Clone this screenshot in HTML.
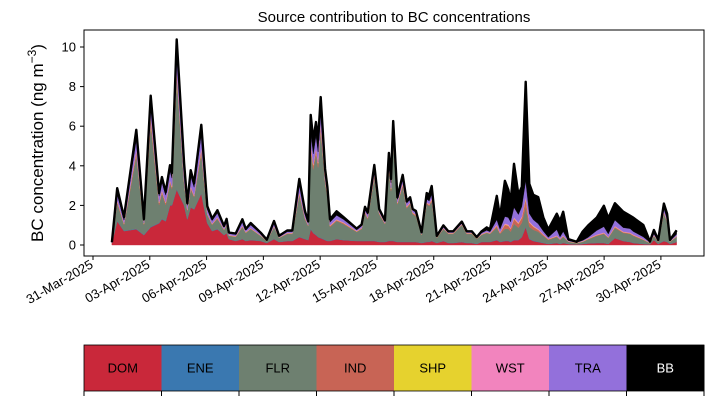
<!DOCTYPE html>
<html><head><meta charset="utf-8"><style>
html,body{margin:0;padding:0;background:#fff;width:714px;height:402px;overflow:hidden}
svg{display:block;font-family:"Liberation Sans",sans-serif}
</style></head><body>
<svg id="c" width="714" height="402" viewBox="0 0 714 402">
<text x="394" y="22" text-anchor="middle" font-size="15">Source contribution to BC concentrations</text>
<text transform="translate(43,143) rotate(-90)" text-anchor="middle" font-size="17">BC concentration (ng m<tspan dy="-7" font-size="12">−3</tspan><tspan dy="7">)</tspan></text>
<g id="areas"></g>
<g id="axes"></g>
<g id="legend"></g>
</svg>
<script>
const days=[1.00,1.28,1.64,2.29,2.69,3.05,3.49,3.64,3.84,4.07,4.17,4.42,4.81,4.98,5.16,5.34,5.72,6.04,6.29,6.57,6.92,7.06,7.18,7.54,7.89,8.07,8.33,8.86,9.18,9.56,9.83,10.26,10.53,10.90,11.20,11.37,11.50,11.64,11.78,11.89,12.03,12.26,12.38,12.52,12.87,13.22,13.93,14.19,14.37,14.51,14.86,15.12,15.42,15.63,15.74,15.86,16.08,16.36,16.57,16.75,16.89,17.06,17.36,17.63,17.76,17.89,18.16,18.51,18.77,19.03,19.48,19.74,20.01,20.27,20.53,20.80,20.97,21.33,21.50,21.76,21.94,22.06,22.24,22.47,22.65,22.86,23.05,23.26,23.52,23.79,24.05,24.50,24.67,24.84,25.11,25.55,25.87,26.16,26.61,26.99,27.22,27.57,28.01,28.37,28.54,29.07,29.42,29.63,29.86,30.16,30.33,30.48,30.83];
const DOM=[0.1,1.2,0.7,0.8,0.5,0.9,1.1,1.3,1.2,2.0,2.0,2.8,2.0,1.3,1.9,1.8,2.6,1.1,0.7,0.8,0.5,0.6,0.3,0.2,0.3,0.2,0.25,0.2,0.1,0.3,0.15,0.2,0.2,0.4,0.3,0.25,0.8,0.6,0.5,0.4,0.35,0.25,0.2,0.2,0.3,0.25,0.2,0.2,0.2,0.2,0.2,0.15,0.15,0.2,0.2,0.2,0.15,0.15,0.15,0.15,0.15,0.15,0.1,0.15,0.15,0.2,0.1,0.2,0.1,0.1,0.15,0.1,0.1,0.05,0.15,0.15,0.15,0.25,0.15,0.2,0.2,0.15,0.25,0.25,0.4,0.9,0.3,0.2,0.15,0.1,0.05,0.1,0.05,0.1,0.05,0.03,0.05,0.08,0.1,0.1,0.05,0.35,0.2,0.15,0.1,0.05,0.03,0.25,0.05,0.2,0.15,0.05,0.15];
const ENE=[0,0.02,0.02,0.02,0.02,0.02,0.02,0.02,0.02,0.02,0.02,0.03,0.02,0.02,0.02,0.02,0.02,0.02,0.02,0.02,0.01,0.01,0.01,0.01,0.01,0.01,0.01,0.01,0.01,0.01,0.01,0.01,0.01,0.02,0.01,0.01,0.02,0.02,0.02,0.02,0.02,0.02,0.02,0.01,0.01,0.01,0.01,0.01,0.01,0.01,0.02,0.01,0.01,0.02,0.02,0.02,0.01,0.02,0.01,0.01,0.01,0.01,0.01,0.02,0.02,0.02,0.01,0.01,0.01,0.01,0.01,0.01,0.01,0.01,0.01,0.01,0.01,0.02,0.01,0.02,0.02,0.02,0.02,0.02,0.02,0.03,0.02,0.02,0.02,0.01,0.01,0.01,0.01,0.01,0.01,0.01,0.01,0.01,0.01,0.01,0.01,0.01,0.01,0.01,0.01,0.01,0.01,0.01,0.01,0.01,0.01,0.01,0.01];
const FLR=[0,0.9,0.3,3.7,0.5,5.2,0.9,1.3,0.8,1.1,0.8,5.6,1.1,0.4,0.9,0.6,2.0,0.4,0.3,0.5,0.25,0.4,0.15,0.2,0.6,0.4,0.55,0.25,0.08,0.6,0.2,0.35,0.35,2.1,1.0,0.7,3.9,3.2,4.1,3.5,5.4,2.9,2.2,0.7,0.9,0.8,0.45,0.6,1.4,1.1,3.2,1.4,0.9,3.6,2.5,5.0,1.9,2.8,1.7,1.9,1.4,1.3,0.4,1.9,1.8,2.0,0.25,0.6,0.45,0.45,0.85,0.45,0.45,0.25,0.35,0.45,0.4,0.6,0.4,0.6,0.6,0.5,0.8,0.6,0.7,1.0,0.6,0.55,0.5,0.35,0.2,0.3,0.2,0.3,0.1,0.05,0.1,0.2,0.35,0.45,0.3,0.5,0.4,0.4,0.35,0.2,0.05,0.2,0.1,1.4,1.0,0.1,0.25];
const IND=[0,0.1,0.05,0.2,0.05,0.3,0.1,0.1,0.1,0.1,0.1,0.3,0.1,0.05,0.1,0.05,0.2,0.05,0.03,0.05,0.02,0.03,0.02,0.02,0.03,0.02,0.02,0.01,0.01,0.02,0.01,0.02,0.02,0.1,0.05,0.03,0.3,0.2,0.2,0.2,0.3,0.1,0.1,0.05,0.05,0.05,0.02,0.03,0.05,0.05,0.1,0.05,0.03,0.1,0.1,0.15,0.05,0.1,0.05,0.05,0.05,0.05,0.02,0.05,0.05,0.1,0.02,0.02,0.02,0.02,0.02,0.02,0.02,0.01,0.02,0.02,0.02,0.1,0.05,0.2,0.15,0.15,0.25,0.2,0.25,0.4,0.2,0.15,0.1,0.05,0.03,0.03,0.02,0.03,0.01,0.01,0.01,0.02,0.03,0.03,0.02,0.05,0.03,0.03,0.03,0.02,0.01,0.02,0.01,0.03,0.03,0.01,0.02];
const SHP=[0,0.01,0.01,0.02,0.01,0.02,0.01,0.01,0.01,0.01,0.01,0.03,0.01,0.01,0.01,0.01,0.02,0.01,0.01,0.01,0.01,0.01,0.01,0.01,0.01,0.01,0.01,0.01,0.01,0.01,0.01,0.01,0.01,0.02,0.01,0.01,0.02,0.02,0.02,0.02,0.02,0.02,0.01,0.01,0.01,0.01,0.01,0.01,0.01,0.01,0.02,0.01,0.01,0.02,0.02,0.02,0.01,0.02,0.01,0.01,0.01,0.01,0.01,0.01,0.01,0.01,0.01,0.01,0.01,0.01,0.01,0.01,0.01,0.01,0.01,0.01,0.01,0.01,0.01,0.02,0.02,0.01,0.02,0.02,0.02,0.03,0.02,0.02,0.01,0.01,0.01,0.01,0.01,0.01,0.01,0.01,0.01,0.01,0.01,0.01,0.01,0.01,0.01,0.01,0.01,0.01,0.01,0.01,0.01,0.01,0.01,0.01,0.01];
const WST=[0,0.04,0.03,0.08,0.03,0.1,0.04,0.05,0.04,0.05,0.05,0.12,0.05,0.03,0.05,0.04,0.08,0.03,0.02,0.03,0.02,0.02,0.02,0.02,0.03,0.02,0.02,0.02,0.01,0.02,0.01,0.02,0.02,0.05,0.03,0.02,0.08,0.06,0.07,0.06,0.08,0.05,0.04,0.03,0.03,0.03,0.02,0.02,0.03,0.03,0.05,0.03,0.02,0.06,0.05,0.07,0.04,0.05,0.04,0.04,0.03,0.03,0.02,0.04,0.04,0.05,0.01,0.02,0.02,0.02,0.02,0.02,0.02,0.01,0.02,0.02,0.02,0.05,0.03,0.05,0.05,0.04,0.06,0.05,0.05,0.08,0.05,0.04,0.04,0.03,0.02,0.03,0.02,0.03,0.01,0.01,0.02,0.02,0.03,0.03,0.02,0.04,0.03,0.03,0.03,0.02,0.01,0.02,0.01,0.04,0.03,0.01,0.02];
const TRA=[0.02,0.3,0.15,0.5,0.1,0.6,0.3,0.4,0.35,0.45,0.4,0.9,0.5,0.2,0.5,0.4,0.7,0.2,0.15,0.2,0.1,0.15,0.07,0.07,0.2,0.1,0.15,0.07,0.03,0.15,0.05,0.07,0.07,0.4,0.2,0.1,0.6,0.5,0.6,0.5,0.6,0.3,0.2,0.15,0.2,0.15,0.07,0.1,0.15,0.15,0.25,0.1,0.07,0.3,0.25,0.35,0.15,0.25,0.15,0.15,0.1,0.1,0.05,0.15,0.15,0.2,0.03,0.08,0.05,0.05,0.07,0.05,0.05,0.03,0.05,0.08,0.06,0.25,0.15,0.35,0.35,0.3,0.5,0.4,0.5,0.8,0.4,0.3,0.25,0.15,0.07,0.3,0.1,0.2,0.03,0.01,0.03,0.05,0.2,0.3,0.15,0.3,0.2,0.2,0.15,0.1,0.02,0.05,0.02,0.15,0.1,0.02,0.08];
const BB=[0.02,0.3,0.15,0.5,0.1,0.4,0.15,0.25,0.15,0.3,0.25,0.6,0.35,0.1,0.3,0.2,0.45,0.15,0.1,0.15,0.05,0.1,0.05,0.05,0.12,0.05,0.1,0.05,0.02,0.1,0.03,0.05,0.05,0.25,0.1,0.08,0.85,0.7,0.7,0.6,0.7,0.2,0.15,0.15,0.2,0.12,0.05,0.06,0.08,0.08,0.2,0.07,0.05,0.35,0.2,0.45,0.1,0.15,0.1,0.1,0.07,0.07,0.03,0.3,0.3,0.4,0.03,0.05,0.03,0.03,0.05,0.03,0.03,0.03,0.08,0.15,0.12,1.2,0.6,1.8,1.4,1.0,2.2,1.0,1.0,5.0,1.5,1.25,1.35,0.7,0.4,0.8,0.8,1.0,0.08,0.03,0.45,0.6,0.65,1.05,0.8,0.85,0.8,0.65,0.7,0.6,0.03,0.2,0.05,0.25,0.25,0.05,0.2];
const seriesNames=["DOM","ENE","FLR","IND","SHP","WST","TRA","BB"];
const seriesData=[DOM,ENE,FLR,IND,SHP,WST,TRA,BB];
const colors=["#c9283a","#3a78b0","#6e8070","#c86455","#e6d22e","#f284be","#9370db","#000000"];
const xTickLabels=["31-Mar-2025","03-Apr-2025","06-Apr-2025","09-Apr-2025","12-Apr-2025","15-Apr-2025","18-Apr-2025","21-Apr-2025","24-Apr-2025","27-Apr-2025","30-Apr-2025"];
const xTickDays=[0,3,6,9,12,15,18,21,24,27,30];
const yTicks=[0,2,4,6,8,10];

const NS="http://www.w3.org/2000/svg";
const L=84,R=704,T=30,B=256;
const xs=d=>93+18.93*d;
const ys=v=>245-19.8*v;
function mk(tag,attrs,parent){const e=document.createElementNS(NS,tag);for(const k in attrs)e.setAttribute(k,attrs[k]);parent.appendChild(e);return e;}

const areas=document.getElementById('areas');
let base=days.map(()=>0);
seriesData.forEach((arr,si)=>{
  const top=base.map((b,i)=>b+arr[i]);
  let d="M"+days.map((t,i)=>xs(t).toFixed(1)+","+ys(top[i]).toFixed(1)).join("L");
  for(let i=days.length-1;i>=0;i--)d+="L"+xs(days[i]).toFixed(1)+","+ys(base[i]).toFixed(1);
  d+="Z";
  const p=mk('path',{d:d,fill:colors[si],stroke:colors[si],'stroke-width':0.4},areas);
  
  
  base=top;
});
const tl=mk('polyline',{points:days.map((t,i)=>xs(t).toFixed(1)+","+ys(base[i]).toFixed(1)).join(" "),fill:"none",stroke:"#000","stroke-width":2.4,"stroke-linejoin":"round"},areas);



const ax=document.getElementById('axes');
const fr=mk('rect',{x:L,y:T,width:R-L,height:B-T,fill:"none",stroke:"#000","stroke-width":1},ax);


yTicks.forEach(v=>{
  mk('line',{x1:L-4,x2:L,y1:ys(v),y2:ys(v),stroke:"#000"},ax);
  const t=mk('text',{x:L-8,y:ys(v)+4.5,'text-anchor':'end','font-size':13},ax);
  t.textContent=v;
  
  
});
xTickDays.forEach((dd,i)=>{
  const x=xs(dd);
  mk('line',{x1:x,x2:x,y1:B,y2:B+4,stroke:"#000"},ax);
  const t=mk('text',{transform:`translate(${x+1},${B+11}) rotate(-30)`,'text-anchor':'end','font-size':13},ax);
  t.textContent=xTickLabels[i];
  
  
});

const lg=document.getElementById('legend');
const bw=(R-L)/seriesNames.length;
seriesNames.forEach((n,i)=>{
  const r=mk('rect',{x:L+i*bw,y:345,width:bw+0.5,height:46,fill:colors[i]},lg);
  
  
  const t=mk('text',{x:L+i*bw+bw/2,y:372.5,'text-anchor':'middle','font-size':13,fill:i===7?"#fff":"#000"},lg);
  t.textContent=n;
  
  
});
mk('rect',{x:L,y:345,width:R-L,height:46,fill:"none",stroke:"#000","stroke-width":0.8},lg);
for(let i=0;i<=seriesNames.length;i++){mk('line',{x1:L+i*bw,x2:L+i*bw,y1:391,y2:396,stroke:"#000"},lg);}
</script>
</body></html>
